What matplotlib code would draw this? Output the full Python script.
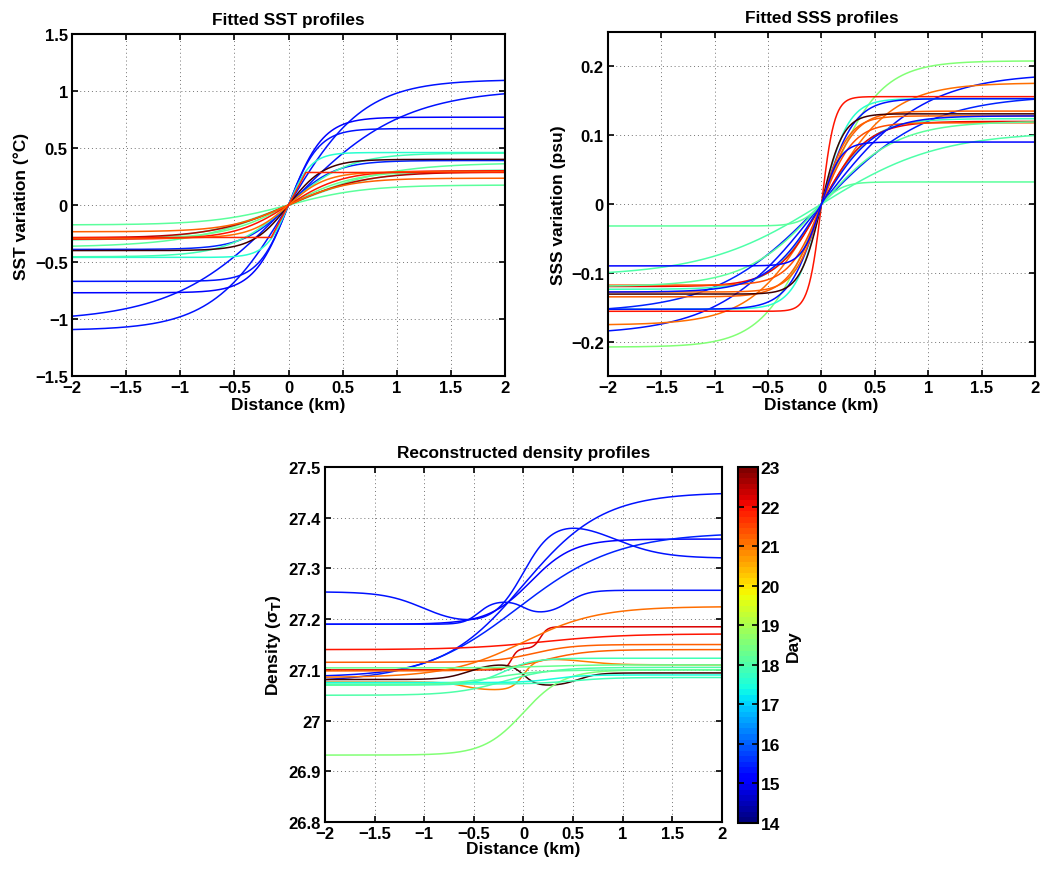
import numpy as np
import matplotlib
matplotlib.use("Agg")
import matplotlib.pyplot as plt
from matplotlib.colors import Normalize
from matplotlib.cm import ScalarMappable
from matplotlib.ticker import FuncFormatter, MultipleLocator

plt.rcParams["font.family"] = ["Liberation Sans", "DejaVu Sans"]
plt.rcParams["font.weight"] = "bold"
plt.rcParams["axes.labelweight"] = "bold"
plt.rcParams["axes.titleweight"] = "bold"
plt.rcParams["font.size"] = 12
plt.rcParams["axes.titlesize"] = 12.4
plt.rcParams["axes.labelsize"] = 12.5

# fitted SST profiles: amplitude (degC) and width (km) of A*tanh(x/w)
sst_day = [15.3, 15.4, 15.2, 15.3, 15.5, 17.6, 17.9, 23.0, 18.2,
           18.0, 18.3, 18.1, 22.0, 22.5, 21.1, 21.2, 21.8]
sst_amp = [1.10, 1.02, 0.77, 0.67, 0.39, 0.46, 0.455, 0.40, 0.37,
           0.31, 0.30, 0.175, 0.30, 0.29, 0.29, 0.235, 0.285]
sst_width = [0.70, 1.05, 0.32, 0.28, 0.42, 0.21, 0.55, 0.33, 0.90,
             0.80, 0.60, 0.70, 0.50, 0.70, 0.35, 0.55, 0.16]
sst_shape = ["tanh"] * 16 + ["ramp"]

# fitted SSS profiles
sss_day = [18.5, 15.4, 21.1, 21.9, 17.6, 15.3, 15.5, 21.2, 23.0,
           21.3, 17.8, 22.1, 21.4, 18.0, 18.1, 18.2, 15.2, 15.3]
sss_amp = [0.208, 0.19, 0.176, 0.156, 0.153, 0.153, 0.158, 0.135, 0.131,
           0.128, 0.124, 0.12, 0.118, 0.105, 0.12, 0.032, 0.09, 0.128]
sss_width = [0.515, 0.95, 0.64, 0.12, 0.25, 0.30, 1.00, 0.30, 0.20,
             0.25, 0.45, 0.42, 0.30, 1.10, 0.70, 0.20, 0.18, 0.50]

# reconstructed density: left value + steps (rise, centre km, width km)
dens_day = [15.3, 15.4, 15.2, 15.5, 15.3, 22.0, 22.2, 21.1, 21.3,
            21.2, 21.0, 23.0, 18.5, 18.0, 17.8, 17.5, 17.8, 18.2, 18.3]
dens_base = [27.086, 27.254, 27.19, 27.075, 27.19, 27.14, 27.10, 27.085, 27.115,
             27.098, 27.076, 27.081, 26.932, 27.05, 27.07, 27.075, 27.072, 27.07, 27.104]
dens_steps = [
    [(0.364, 0.0, 0.8)],
    [(-0.066, -1.0, 0.4), (0.212, 0.0, 0.3), (-0.08, 0.9, 0.5)],
    [(0.168, 0.072, 0.43)],
    [(0.296, -0.05, 1.0)],
    [(0.046, -0.45, 0.15), (-0.026, 0.0, 0.13), (0.047, 0.45, 0.2)],
    [(0.031, 0.2, 0.8)],
    [(0.042, -0.12, 0.06), (0.043, 0.17, 0.07)],
    [(0.14, 0.0, 0.75)],
    [(0.035, 0.1, 0.4)],
    [(0.042, 0.2, 0.45)],
    [(-0.016, -0.6, 0.2), (0.062, 0.0, 0.12), (-0.012, 0.65, 0.3)],
    [(0.032, -0.55, 0.25), (-0.045, 0.0, 0.13), (0.026, 0.55, 0.2)],
    [(0.168, 0.0, 0.4)],
    [(0.055, -0.2, 0.5)],
    [(0.053, -0.2, 0.3)],
    [(0.015, 0.3, 0.3)],
    [(0.013, 0.5, 0.4)],
    [(0.03, -0.3, 0.5)],
    [(0.006, 0.2, 0.5)],
]

xticks = [-2, -1.5, -1, -0.5, 0, 0.5, 1, 1.5, 2]

cmap = plt.get_cmap("jet", 64)
norm = Normalize(14, 23)


def day_color(d):
    c = cmap(norm(d))
    if d >= 23:
        c = (c[0] * 0.5, c[1], c[2], 1)
    return c


def fmt(v, pos):
    return ("%g" % round(v, 6)).replace("-", "\u2212")


def style_axes(ax):
    ax.set_xlim(-2, 2)
    ax.set_xticks(xticks)
    ax.xaxis.set_major_formatter(FuncFormatter(fmt))
    ax.yaxis.set_major_formatter(FuncFormatter(fmt))
    ax.tick_params(direction="in", top=True, right=True, length=4, width=1.2, pad=3)
    for s in ax.spines.values():
        s.set_linewidth(1.5)
    ax.grid(True, color="0.45", linestyle=(0, (1, 3)), linewidth=0.7)
    ax.set_axisbelow(True)


x = np.linspace(-2, 2, 801)
fig = plt.figure(figsize=(10.53, 8.70), dpi=100)

# SST
ax1 = fig.add_axes([0.0684, 0.5667, 0.4112, 0.3931])
for d, a, w, k in zip(sst_day, sst_amp, sst_width, sst_shape):
    if k == "ramp":
        y = a * np.clip(x / w, -1, 1)
    else:
        y = a * np.tanh(x / w)
    ax1.plot(x, y, color=day_color(d), lw=1.1)
style_axes(ax1)
ax1.set_ylim(-1.5, 1.5)
ax1.yaxis.set_major_locator(MultipleLocator(0.5))
ax1.set_title("Fitted SST profiles", pad=7)
ax1.set_xlabel("Distance (km)", labelpad=1)
ax1.set_ylabel("SST variation (\u00b0C)", labelpad=4)

# SSS
ax2 = fig.add_axes([0.5774, 0.5667, 0.4055, 0.3954])
for d, a, w in zip(sss_day, sss_amp, sss_width):
    ax2.plot(x, a * np.tanh(x / w), color=day_color(d), lw=1.1)
style_axes(ax2)
ax2.set_ylim(-0.25, 0.25)
ax2.set_yticks([-0.2, -0.1, 0, 0.1, 0.2])
ax2.set_title("Fitted SSS profiles", pad=7)
ax2.set_xlabel("Distance (km)", labelpad=1)
ax2.set_ylabel("SSS variation (psu)", labelpad=4)

# density
ax3 = fig.add_axes([0.3086, 0.054, 0.3771, 0.408])
for d, b, steps in zip(dens_day, dens_base, dens_steps):
    y = np.full_like(x, b)
    for a, c, w in steps:
        y = y + a * 0.5 * (1 + np.tanh((x - c) / w))
    ax3.plot(x, y, color=day_color(d), lw=1.1)
style_axes(ax3)
ax3.set_ylim(26.8, 27.5)
ax3.set_yticks(np.round(np.arange(26.8, 27.51, 0.1), 1))
ax3.set_title("Reconstructed density profiles", pad=7)
ax3.set_xlabel("Distance (km)", labelpad=0)
ax3.set_ylabel("Density (\u03c3$_{\\mathbf{T}}$)", labelpad=4)

cax = fig.add_axes([0.7009, 0.0529, 0.019, 0.4092])
cb = fig.colorbar(ScalarMappable(norm=norm, cmap=cmap), cax=cax)
cb.set_ticks(range(14, 24))
cb.outline.set_linewidth(1.5)
cax.tick_params(direction="in", left=True, right=True, length=4, width=1.2, pad=2,
                labelsize=12.5)
cb.set_label("Day", labelpad=4)

fig.savefig("out.png", dpi=100)
